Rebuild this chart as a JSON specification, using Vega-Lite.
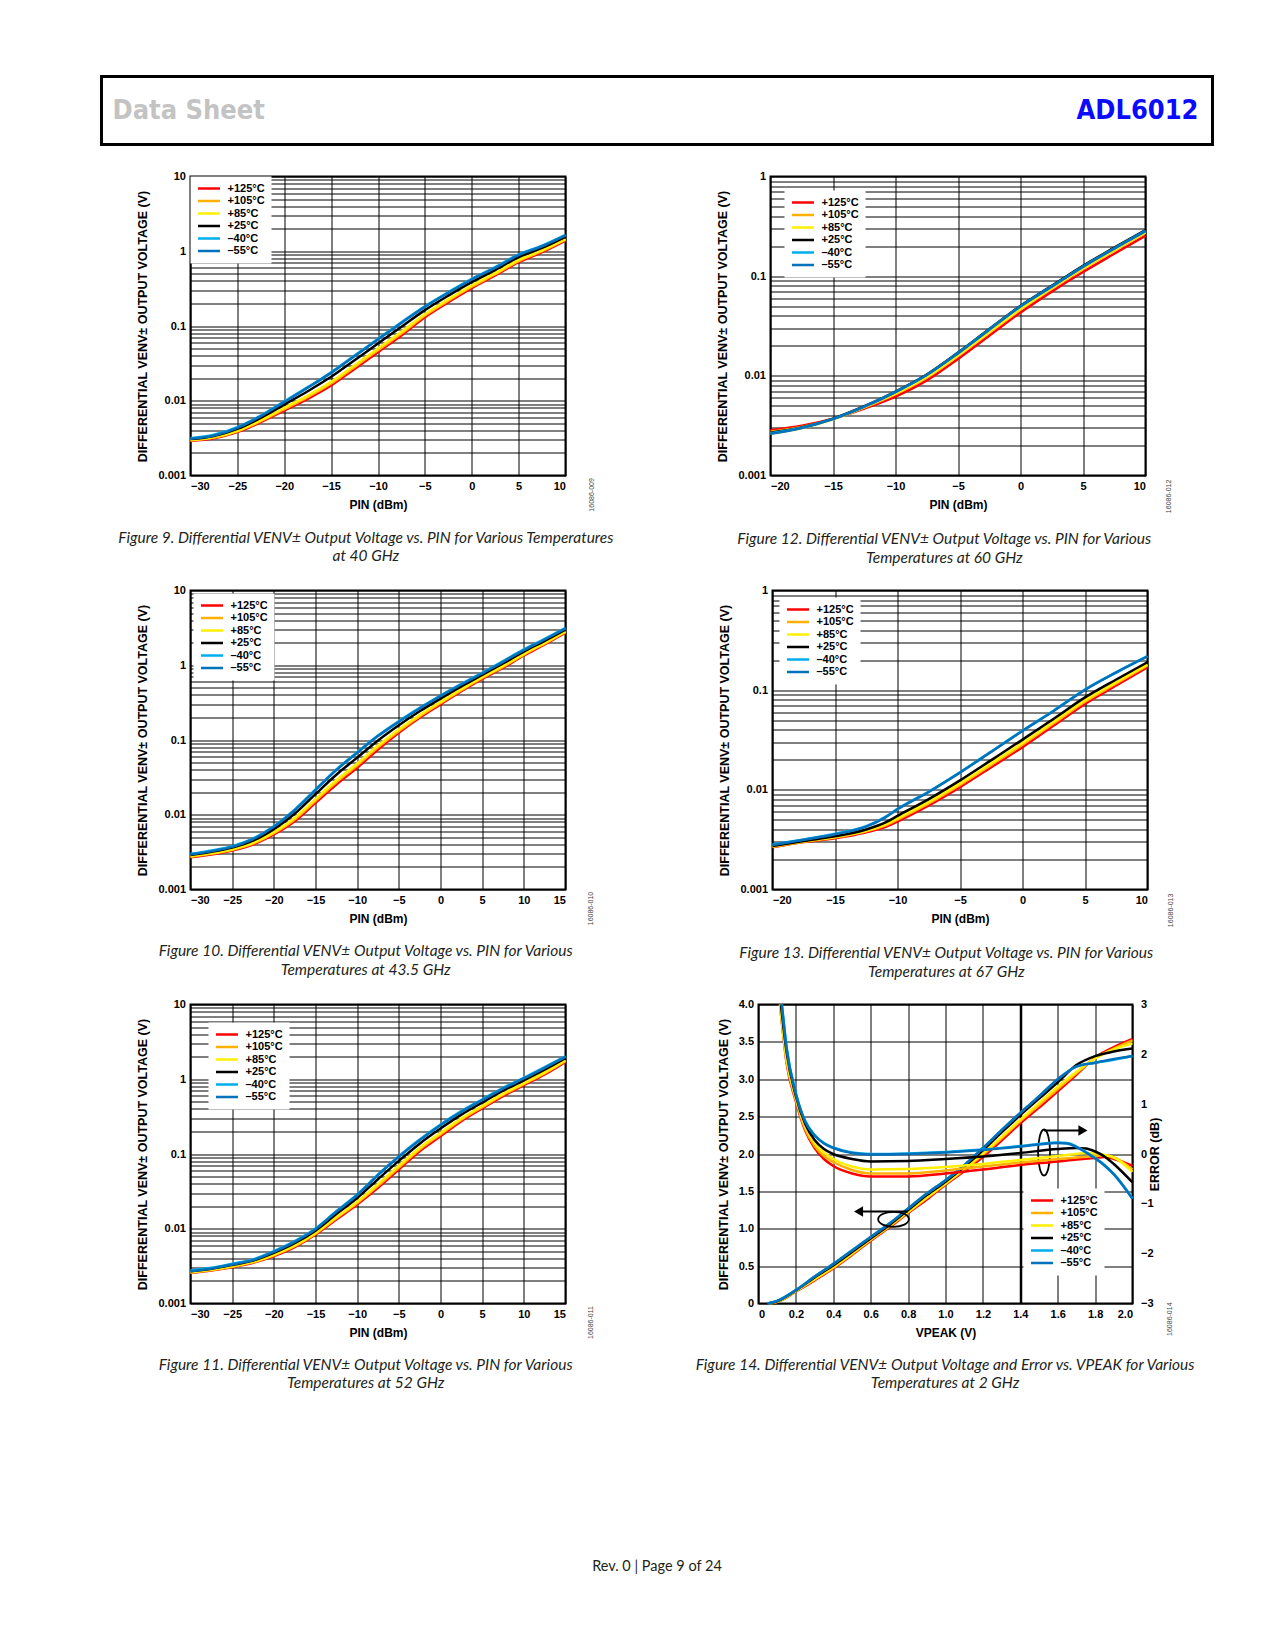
{
  "$schema": "https://vega.github.io/schema/vega-lite/v6.json",
  "description": "ADL6012 data sheet page 9: differential VENV output voltage vs. input power and VPEAK for various temperatures.",
  "background": "white",
  "padding": {"left": 99.5, "top": 74.5, "right": 20, "bottom": 40},
  "autosize": {"type": "pad"},
  "config": {
    "font": "Liberation Sans",
    "view": {"stroke": "black", "strokeWidth": 2},
    "axis": {
      "labelFont": "Liberation Sans", "labelFontSize": 11, "labelFontWeight": "bold", "labelColor": "black",
      "titleFont": "Liberation Sans", "titleFontSize": 12, "titleFontWeight": "bold", "titleColor": "black",
      "domain": false, "ticks": false, "gridColor": "black", "gridOpacity": 1, "gridWidth": 1,
      "labelPadding": 5, "titlePadding": 8, "labelOverlap": false
    },
    "axisY": {"titleFontSize": 12.5},
    "legend": {
      "fillColor": "white", "padding": 6, "symbolType": "stroke", "symbolSize": 484, "symbolStrokeWidth": 2.5,
      "labelFont": "Liberation Sans", "labelFontWeight": "bold", "labelFontSize": 11, "labelColor": "black",
      "clipHeight": 12, "rowPadding": 0.5, "labelOffset": 6
    },
    "title": {
      "font": "Lato", "fontStyle": "italic", "fontWeight": "normal", "fontSize": 15.5, "color": "#231f20",
      "orient": "bottom", "anchor": "middle", "frame": "bounds", "offset": 19, "lineHeight": 18.5
    },
    "line": {"strokeWidth": 2.5, "interpolate": "monotone"},
    "text": {"font": "Liberation Sans"}
  },
  "title": {"text": "Rev. 0 | Page 9 of 24", "orient": "bottom", "anchor": "middle", "frame": "bounds", "offset": 167, "font": "Lato", "fontStyle": "normal", "fontSize": 14.5},
  "resolve": {"scale": {"color": "independent"}, "legend": {"color": "independent"}},
  "datasets": {
    "fig9": [
      {"s": "+125°C", "x": -30, "y": 0.00291}, {"s": "+105°C", "x": -30, "y": 0.00295}, {"s": "+85°C", "x": -30, "y": 0.00298}, {"s": "+25°C", "x": -30, "y": 0.00307}, {"s": "–40°C", "x": -30, "y": 0.00316}, {"s": "–55°C", "x": -30, "y": 0.0031},
      {"s": "+125°C", "x": -27.5, "y": 0.00316}, {"s": "+105°C", "x": -27.5, "y": 0.00321}, {"s": "+85°C", "x": -27.5, "y": 0.00325}, {"s": "+25°C", "x": -27.5, "y": 0.00338}, {"s": "–40°C", "x": -27.5, "y": 0.0035}, {"s": "–55°C", "x": -27.5, "y": 0.00343},
      {"s": "+125°C", "x": -25, "y": 0.0038}, {"s": "+105°C", "x": -25, "y": 0.00389}, {"s": "+85°C", "x": -25, "y": 0.00397}, {"s": "+25°C", "x": -25, "y": 0.0042}, {"s": "–40°C", "x": -25, "y": 0.00443}, {"s": "–55°C", "x": -25, "y": 0.00434},
      {"s": "+125°C", "x": -22.5, "y": 0.00518}, {"s": "+105°C", "x": -22.5, "y": 0.00534}, {"s": "+85°C", "x": -22.5, "y": 0.00549}, {"s": "+25°C", "x": -22.5, "y": 0.00592}, {"s": "–40°C", "x": -22.5, "y": 0.00635}, {"s": "–55°C", "x": -22.5, "y": 0.00622},
      {"s": "+125°C", "x": -20, "y": 0.0074}, {"s": "+105°C", "x": -20, "y": 0.00772}, {"s": "+85°C", "x": -20, "y": 0.00801}, {"s": "+25°C", "x": -20, "y": 0.00888}, {"s": "–40°C", "x": -20, "y": 0.0098}, {"s": "–55°C", "x": -20, "y": 0.0096},
      {"s": "+125°C", "x": -17.5, "y": 0.0106}, {"s": "+105°C", "x": -17.5, "y": 0.0112}, {"s": "+85°C", "x": -17.5, "y": 0.01172}, {"s": "+25°C", "x": -17.5, "y": 0.0134}, {"s": "–40°C", "x": -17.5, "y": 0.0152}, {"s": "–55°C", "x": -17.5, "y": 0.0149},
      {"s": "+125°C", "x": -15, "y": 0.016}, {"s": "+105°C", "x": -15, "y": 0.017}, {"s": "+85°C", "x": -15, "y": 0.0179}, {"s": "+25°C", "x": -15, "y": 0.0209}, {"s": "–40°C", "x": -15, "y": 0.0241}, {"s": "–55°C", "x": -15, "y": 0.0236},
      {"s": "+125°C", "x": -12.5, "y": 0.0267}, {"s": "+105°C", "x": -12.5, "y": 0.0284}, {"s": "+85°C", "x": -12.5, "y": 0.0299}, {"s": "+25°C", "x": -12.5, "y": 0.0349}, {"s": "–40°C", "x": -12.5, "y": 0.0403}, {"s": "–55°C", "x": -12.5, "y": 0.0395},
      {"s": "+125°C", "x": -10, "y": 0.0447}, {"s": "+105°C", "x": -10, "y": 0.0475}, {"s": "+85°C", "x": -10, "y": 0.0501}, {"s": "+25°C", "x": -10, "y": 0.0583}, {"s": "–40°C", "x": -10, "y": 0.0673}, {"s": "–55°C", "x": -10, "y": 0.066},
      {"s": "+125°C", "x": -7.5, "y": 0.0746}, {"s": "+105°C", "x": -7.5, "y": 0.0793}, {"s": "+85°C", "x": -7.5, "y": 0.0836}, {"s": "+25°C", "x": -7.5, "y": 0.0974}, {"s": "–40°C", "x": -7.5, "y": 0.1125}, {"s": "–55°C", "x": -7.5, "y": 0.11},
      {"s": "+125°C", "x": -5, "y": 0.131}, {"s": "+105°C", "x": -5, "y": 0.138}, {"s": "+85°C", "x": -5, "y": 0.144}, {"s": "+25°C", "x": -5, "y": 0.163}, {"s": "–40°C", "x": -5, "y": 0.184}, {"s": "–55°C", "x": -5, "y": 0.18},
      {"s": "+125°C", "x": -2.5, "y": 0.208}, {"s": "+105°C", "x": -2.5, "y": 0.218}, {"s": "+85°C", "x": -2.5, "y": 0.227}, {"s": "+25°C", "x": -2.5, "y": 0.255}, {"s": "–40°C", "x": -2.5, "y": 0.284}, {"s": "–55°C", "x": -2.5, "y": 0.278},
      {"s": "+125°C", "x": 0, "y": 0.321}, {"s": "+105°C", "x": 0, "y": 0.335}, {"s": "+85°C", "x": 0, "y": 0.348}, {"s": "+25°C", "x": 0, "y": 0.387}, {"s": "–40°C", "x": 0, "y": 0.428}, {"s": "–55°C", "x": 0, "y": 0.419},
      {"s": "+125°C", "x": 2.5, "y": 0.474}, {"s": "+105°C", "x": 2.5, "y": 0.492}, {"s": "+85°C", "x": 2.5, "y": 0.509}, {"s": "+25°C", "x": 2.5, "y": 0.56}, {"s": "–40°C", "x": 2.5, "y": 0.612}, {"s": "–55°C", "x": 2.5, "y": 0.6},
      {"s": "+125°C", "x": 5, "y": 0.714}, {"s": "+105°C", "x": 5, "y": 0.74}, {"s": "+85°C", "x": 5, "y": 0.763}, {"s": "+25°C", "x": 5, "y": 0.834}, {"s": "–40°C", "x": 5, "y": 0.906}, {"s": "–55°C", "x": 5, "y": 0.888},
      {"s": "+125°C", "x": 7.5, "y": 0.972}, {"s": "+105°C", "x": 7.5, "y": 1.002}, {"s": "+85°C", "x": 7.5, "y": 1.028}, {"s": "+25°C", "x": 7.5, "y": 1.108}, {"s": "–40°C", "x": 7.5, "y": 1.19}, {"s": "–55°C", "x": 7.5, "y": 1.166},
      {"s": "+125°C", "x": 10, "y": 1.39}, {"s": "+105°C", "x": 10, "y": 1.428}, {"s": "+85°C", "x": 10, "y": 1.461}, {"s": "+25°C", "x": 10, "y": 1.56}, {"s": "–40°C", "x": 10, "y": 1.66}, {"s": "–55°C", "x": 10, "y": 1.627}
    ],
    "fig10": [
      {"s": "+125°C", "x": -30, "y": 0.00271}, {"s": "+105°C", "x": -30, "y": 0.00275}, {"s": "+85°C", "x": -30, "y": 0.00279}, {"s": "+25°C", "x": -30, "y": 0.00289}, {"s": "–40°C", "x": -30, "y": 0.003}, {"s": "–55°C", "x": -30, "y": 0.00294},
      {"s": "+125°C", "x": -27.5, "y": 0.00294}, {"s": "+105°C", "x": -27.5, "y": 0.003}, {"s": "+85°C", "x": -27.5, "y": 0.00305}, {"s": "+25°C", "x": -27.5, "y": 0.00319}, {"s": "–40°C", "x": -27.5, "y": 0.00333}, {"s": "–55°C", "x": -27.5, "y": 0.00326},
      {"s": "+125°C", "x": -25, "y": 0.00333}, {"s": "+105°C", "x": -25, "y": 0.0034}, {"s": "+85°C", "x": -25, "y": 0.00346}, {"s": "+25°C", "x": -25, "y": 0.00363}, {"s": "–40°C", "x": -25, "y": 0.0038}, {"s": "–55°C", "x": -25, "y": 0.00372},
      {"s": "+125°C", "x": -22.5, "y": 0.004}, {"s": "+105°C", "x": -22.5, "y": 0.00411}, {"s": "+85°C", "x": -22.5, "y": 0.00421}, {"s": "+25°C", "x": -22.5, "y": 0.0045}, {"s": "–40°C", "x": -22.5, "y": 0.00481}, {"s": "–55°C", "x": -22.5, "y": 0.00471},
      {"s": "+125°C", "x": -20, "y": 0.00545}, {"s": "+105°C", "x": -20, "y": 0.00566}, {"s": "+85°C", "x": -20, "y": 0.00585}, {"s": "+25°C", "x": -20, "y": 0.00643}, {"s": "–40°C", "x": -20, "y": 0.00703}, {"s": "–55°C", "x": -20, "y": 0.00689},
      {"s": "+125°C", "x": -17.5, "y": 0.0082}, {"s": "+105°C", "x": -17.5, "y": 0.00865}, {"s": "+85°C", "x": -17.5, "y": 0.00906}, {"s": "+25°C", "x": -17.5, "y": 0.01033}, {"s": "–40°C", "x": -17.5, "y": 0.0117}, {"s": "–55°C", "x": -17.5, "y": 0.01147},
      {"s": "+125°C", "x": -15, "y": 0.01445}, {"s": "+105°C", "x": -15, "y": 0.01537}, {"s": "+85°C", "x": -15, "y": 0.01621}, {"s": "+25°C", "x": -15, "y": 0.01889}, {"s": "–40°C", "x": -15, "y": 0.0218}, {"s": "–55°C", "x": -15, "y": 0.02136},
      {"s": "+125°C", "x": -12.5, "y": 0.0254}, {"s": "+105°C", "x": -12.5, "y": 0.0272}, {"s": "+85°C", "x": -12.5, "y": 0.0289}, {"s": "+25°C", "x": -12.5, "y": 0.0343}, {"s": "–40°C", "x": -12.5, "y": 0.0403}, {"s": "–55°C", "x": -12.5, "y": 0.0395},
      {"s": "+125°C", "x": -10, "y": 0.0425}, {"s": "+105°C", "x": -10, "y": 0.0457}, {"s": "+85°C", "x": -10, "y": 0.0486}, {"s": "+25°C", "x": -10, "y": 0.0581}, {"s": "–40°C", "x": -10, "y": 0.0687}, {"s": "–55°C", "x": -10, "y": 0.0673},
      {"s": "+125°C", "x": -7.5, "y": 0.0746}, {"s": "+105°C", "x": -7.5, "y": 0.0796}, {"s": "+85°C", "x": -7.5, "y": 0.0842}, {"s": "+25°C", "x": -7.5, "y": 0.0988}, {"s": "–40°C", "x": -7.5, "y": 0.115}, {"s": "–55°C", "x": -7.5, "y": 0.1127},
      {"s": "+125°C", "x": -5, "y": 0.125}, {"s": "+105°C", "x": -5, "y": 0.132}, {"s": "+85°C", "x": -5, "y": 0.138}, {"s": "+25°C", "x": -5, "y": 0.158}, {"s": "–40°C", "x": -5, "y": 0.179}, {"s": "–55°C", "x": -5, "y": 0.175},
      {"s": "+125°C", "x": -2.5, "y": 0.198}, {"s": "+105°C", "x": -2.5, "y": 0.207}, {"s": "+85°C", "x": -2.5, "y": 0.216}, {"s": "+25°C", "x": -2.5, "y": 0.242}, {"s": "–40°C", "x": -2.5, "y": 0.269}, {"s": "–55°C", "x": -2.5, "y": 0.264},
      {"s": "+125°C", "x": 0, "y": 0.299}, {"s": "+105°C", "x": 0, "y": 0.312}, {"s": "+85°C", "x": 0, "y": 0.323}, {"s": "+25°C", "x": 0, "y": 0.358}, {"s": "–40°C", "x": 0, "y": 0.394}, {"s": "–55°C", "x": 0, "y": 0.386},
      {"s": "+125°C", "x": 2.5, "y": 0.45}, {"s": "+105°C", "x": 2.5, "y": 0.465}, {"s": "+85°C", "x": 2.5, "y": 0.479}, {"s": "+25°C", "x": 2.5, "y": 0.521}, {"s": "–40°C", "x": 2.5, "y": 0.564}, {"s": "–55°C", "x": 2.5, "y": 0.553},
      {"s": "+125°C", "x": 5, "y": 0.658}, {"s": "+105°C", "x": 5, "y": 0.676}, {"s": "+85°C", "x": 5, "y": 0.693}, {"s": "+25°C", "x": 5, "y": 0.742}, {"s": "–40°C", "x": 5, "y": 0.792}, {"s": "–55°C", "x": 5, "y": 0.776},
      {"s": "+125°C", "x": 7.5, "y": 0.923}, {"s": "+105°C", "x": 7.5, "y": 0.952}, {"s": "+85°C", "x": 7.5, "y": 0.978}, {"s": "+25°C", "x": 7.5, "y": 1.056}, {"s": "–40°C", "x": 7.5, "y": 1.135}, {"s": "–55°C", "x": 7.5, "y": 1.112},
      {"s": "+125°C", "x": 10, "y": 1.35}, {"s": "+105°C", "x": 10, "y": 1.388}, {"s": "+85°C", "x": 10, "y": 1.422}, {"s": "+25°C", "x": 10, "y": 1.523}, {"s": "–40°C", "x": 10, "y": 1.626}, {"s": "–55°C", "x": 10, "y": 1.593},
      {"s": "+125°C", "x": 12.5, "y": 1.897}, {"s": "+105°C", "x": 12.5, "y": 1.946}, {"s": "+85°C", "x": 12.5, "y": 1.992}, {"s": "+25°C", "x": 12.5, "y": 2.123}, {"s": "–40°C", "x": 12.5, "y": 2.255}, {"s": "–55°C", "x": 12.5, "y": 2.21},
      {"s": "+125°C", "x": 15, "y": 2.72}, {"s": "+105°C", "x": 15, "y": 2.783}, {"s": "+85°C", "x": 15, "y": 2.84}, {"s": "+25°C", "x": 15, "y": 3.003}, {"s": "–40°C", "x": 15, "y": 3.17}, {"s": "–55°C", "x": 15, "y": 3.107}
    ],
    "fig11": [
      {"s": "+125°C", "x": -30, "y": 0.00257}, {"s": "+105°C", "x": -30, "y": 0.0026}, {"s": "+85°C", "x": -30, "y": 0.00262}, {"s": "+25°C", "x": -30, "y": 0.0027}, {"s": "–40°C", "x": -30, "y": 0.00277}, {"s": "–55°C", "x": -30, "y": 0.00271},
      {"s": "+125°C", "x": -27.5, "y": 0.00277}, {"s": "+105°C", "x": -27.5, "y": 0.0028}, {"s": "+85°C", "x": -27.5, "y": 0.00283}, {"s": "+25°C", "x": -27.5, "y": 0.00292}, {"s": "–40°C", "x": -27.5, "y": 0.003}, {"s": "–55°C", "x": -27.5, "y": 0.00294},
      {"s": "+125°C", "x": -25, "y": 0.00306}, {"s": "+105°C", "x": -25, "y": 0.00311}, {"s": "+85°C", "x": -25, "y": 0.00315}, {"s": "+25°C", "x": -25, "y": 0.00328}, {"s": "–40°C", "x": -25, "y": 0.0034}, {"s": "–55°C", "x": -25, "y": 0.00333},
      {"s": "+125°C", "x": -22.5, "y": 0.0035}, {"s": "+105°C", "x": -22.5, "y": 0.00356}, {"s": "+85°C", "x": -22.5, "y": 0.0036}, {"s": "+25°C", "x": -22.5, "y": 0.00375}, {"s": "–40°C", "x": -22.5, "y": 0.00388}, {"s": "–55°C", "x": -22.5, "y": 0.0038},
      {"s": "+125°C", "x": -20, "y": 0.0043}, {"s": "+105°C", "x": -20, "y": 0.0044}, {"s": "+85°C", "x": -20, "y": 0.00449}, {"s": "+25°C", "x": -20, "y": 0.00475}, {"s": "–40°C", "x": -20, "y": 0.00501}, {"s": "–55°C", "x": -20, "y": 0.00491},
      {"s": "+125°C", "x": -17.5, "y": 0.00567}, {"s": "+105°C", "x": -17.5, "y": 0.00583}, {"s": "+85°C", "x": -17.5, "y": 0.00597}, {"s": "+25°C", "x": -17.5, "y": 0.0064}, {"s": "–40°C", "x": -17.5, "y": 0.00682}, {"s": "–55°C", "x": -17.5, "y": 0.00668},
      {"s": "+125°C", "x": -15, "y": 0.00837}, {"s": "+105°C", "x": -15, "y": 0.0086}, {"s": "+85°C", "x": -15, "y": 0.00881}, {"s": "+25°C", "x": -15, "y": 0.00944}, {"s": "–40°C", "x": -15, "y": 0.01007}, {"s": "–55°C", "x": -15, "y": 0.00987},
      {"s": "+125°C", "x": -12.5, "y": 0.0133}, {"s": "+105°C", "x": -12.5, "y": 0.01382}, {"s": "+85°C", "x": -12.5, "y": 0.01428}, {"s": "+25°C", "x": -12.5, "y": 0.0157}, {"s": "–40°C", "x": -12.5, "y": 0.01718}, {"s": "–55°C", "x": -12.5, "y": 0.01684},
      {"s": "+125°C", "x": -10, "y": 0.0211}, {"s": "+105°C", "x": -10, "y": 0.0221}, {"s": "+85°C", "x": -10, "y": 0.023}, {"s": "+25°C", "x": -10, "y": 0.02577}, {"s": "–40°C", "x": -10, "y": 0.0287}, {"s": "–55°C", "x": -10, "y": 0.0281},
      {"s": "+125°C", "x": -7.5, "y": 0.0352}, {"s": "+105°C", "x": -7.5, "y": 0.03745}, {"s": "+85°C", "x": -7.5, "y": 0.0395}, {"s": "+25°C", "x": -7.5, "y": 0.046}, {"s": "–40°C", "x": -7.5, "y": 0.0532}, {"s": "–55°C", "x": -7.5, "y": 0.0521},
      {"s": "+125°C", "x": -5, "y": 0.0621}, {"s": "+105°C", "x": -5, "y": 0.066}, {"s": "+85°C", "x": -5, "y": 0.0697}, {"s": "+25°C", "x": -5, "y": 0.081}, {"s": "–40°C", "x": -5, "y": 0.0936}, {"s": "–55°C", "x": -5, "y": 0.0917},
      {"s": "+125°C", "x": -2.5, "y": 0.109}, {"s": "+105°C", "x": -2.5, "y": 0.115}, {"s": "+85°C", "x": -2.5, "y": 0.1206}, {"s": "+25°C", "x": -2.5, "y": 0.1376}, {"s": "–40°C", "x": -2.5, "y": 0.156}, {"s": "–55°C", "x": -2.5, "y": 0.1529},
      {"s": "+125°C", "x": 0, "y": 0.173}, {"s": "+105°C", "x": 0, "y": 0.1827}, {"s": "+85°C", "x": 0, "y": 0.1913}, {"s": "+25°C", "x": 0, "y": 0.2187}, {"s": "–40°C", "x": 0, "y": 0.248}, {"s": "–55°C", "x": 0, "y": 0.243},
      {"s": "+125°C", "x": 2.5, "y": 0.275}, {"s": "+105°C", "x": 2.5, "y": 0.2879}, {"s": "+85°C", "x": 2.5, "y": 0.2998}, {"s": "+25°C", "x": 2.5, "y": 0.3358}, {"s": "–40°C", "x": 2.5, "y": 0.374}, {"s": "–55°C", "x": 2.5, "y": 0.3665},
      {"s": "+125°C", "x": 5, "y": 0.406}, {"s": "+105°C", "x": 5, "y": 0.4231}, {"s": "+85°C", "x": 5, "y": 0.4389}, {"s": "+25°C", "x": 5, "y": 0.4864}, {"s": "–40°C", "x": 5, "y": 0.536}, {"s": "–55°C", "x": 5, "y": 0.5253},
      {"s": "+125°C", "x": 7.5, "y": 0.594}, {"s": "+105°C", "x": 7.5, "y": 0.6172}, {"s": "+85°C", "x": 7.5, "y": 0.638}, {"s": "+25°C", "x": 7.5, "y": 0.7015}, {"s": "–40°C", "x": 7.5, "y": 0.767}, {"s": "–55°C", "x": 7.5, "y": 0.7517},
      {"s": "+125°C", "x": 10, "y": 0.834}, {"s": "+105°C", "x": 10, "y": 0.8624}, {"s": "+85°C", "x": 10, "y": 0.8882}, {"s": "+25°C", "x": 10, "y": 0.9658}, {"s": "–40°C", "x": 10, "y": 1.045}, {"s": "–55°C", "x": 10, "y": 1.024},
      {"s": "+125°C", "x": 12.5, "y": 1.159}, {"s": "+105°C", "x": 12.5, "y": 1.198}, {"s": "+85°C", "x": 12.5, "y": 1.234}, {"s": "+25°C", "x": 12.5, "y": 1.342}, {"s": "–40°C", "x": 12.5, "y": 1.452}, {"s": "–55°C", "x": 12.5, "y": 1.423},
      {"s": "+125°C", "x": 15, "y": 1.71}, {"s": "+105°C", "x": 15, "y": 1.756}, {"s": "+85°C", "x": 15, "y": 1.796}, {"s": "+25°C", "x": 15, "y": 1.915}, {"s": "–40°C", "x": 15, "y": 2.037}, {"s": "–55°C", "x": 15, "y": 1.996}
    ],
    "fig12": [
      {"s": "+125°C", "x": -20, "y": 0.00285}, {"s": "+105°C", "x": -20, "y": 0.00275}, {"s": "+85°C", "x": -20, "y": 0.00262}, {"s": "+25°C", "x": -20, "y": 0.00268}, {"s": "–40°C", "x": -20, "y": 0.00265}, {"s": "–55°C", "x": -20, "y": 0.00262},
      {"s": "+125°C", "x": -17.5, "y": 0.00315}, {"s": "+105°C", "x": -17.5, "y": 0.00307}, {"s": "+85°C", "x": -17.5, "y": 0.00298}, {"s": "+25°C", "x": -17.5, "y": 0.00303}, {"s": "–40°C", "x": -17.5, "y": 0.00302}, {"s": "–55°C", "x": -17.5, "y": 0.003},
      {"s": "+125°C", "x": -15, "y": 0.00372}, {"s": "+105°C", "x": -15, "y": 0.00368}, {"s": "+85°C", "x": -15, "y": 0.00366}, {"s": "+25°C", "x": -15, "y": 0.00372}, {"s": "–40°C", "x": -15, "y": 0.0037}, {"s": "–55°C", "x": -15, "y": 0.00368},
      {"s": "+125°C", "x": -12.5, "y": 0.0047}, {"s": "+105°C", "x": -12.5, "y": 0.0048}, {"s": "+85°C", "x": -12.5, "y": 0.00485}, {"s": "+25°C", "x": -12.5, "y": 0.00495}, {"s": "–40°C", "x": -12.5, "y": 0.00492}, {"s": "–55°C", "x": -12.5, "y": 0.0049},
      {"s": "+125°C", "x": -10, "y": 0.0062}, {"s": "+105°C", "x": -10, "y": 0.00655}, {"s": "+85°C", "x": -10, "y": 0.00665}, {"s": "+25°C", "x": -10, "y": 0.00695}, {"s": "–40°C", "x": -10, "y": 0.0069}, {"s": "–55°C", "x": -10, "y": 0.00688},
      {"s": "+125°C", "x": -7.5, "y": 0.009}, {"s": "+105°C", "x": -7.5, "y": 0.0096}, {"s": "+85°C", "x": -7.5, "y": 0.0098}, {"s": "+25°C", "x": -7.5, "y": 0.0103}, {"s": "–40°C", "x": -7.5, "y": 0.0102}, {"s": "–55°C", "x": -7.5, "y": 0.0102},
      {"s": "+125°C", "x": -5, "y": 0.0148}, {"s": "+105°C", "x": -5, "y": 0.0158}, {"s": "+85°C", "x": -5, "y": 0.0161}, {"s": "+25°C", "x": -5, "y": 0.0171}, {"s": "–40°C", "x": -5, "y": 0.0169}, {"s": "–55°C", "x": -5, "y": 0.0168},
      {"s": "+125°C", "x": -2.5, "y": 0.0253}, {"s": "+105°C", "x": -2.5, "y": 0.0271}, {"s": "+85°C", "x": -2.5, "y": 0.0276}, {"s": "+25°C", "x": -2.5, "y": 0.0295}, {"s": "–40°C", "x": -2.5, "y": 0.0292}, {"s": "–55°C", "x": -2.5, "y": 0.029},
      {"s": "+125°C", "x": 0, "y": 0.0432}, {"s": "+105°C", "x": 0, "y": 0.0462}, {"s": "+85°C", "x": 0, "y": 0.047}, {"s": "+25°C", "x": 0, "y": 0.0505}, {"s": "–40°C", "x": 0, "y": 0.05}, {"s": "–55°C", "x": 0, "y": 0.0497},
      {"s": "+125°C", "x": 2.5, "y": 0.07}, {"s": "+105°C", "x": 2.5, "y": 0.0749}, {"s": "+85°C", "x": 2.5, "y": 0.0763}, {"s": "+25°C", "x": 2.5, "y": 0.08}, {"s": "–40°C", "x": 2.5, "y": 0.079}, {"s": "–55°C", "x": 2.5, "y": 0.0785},
      {"s": "+125°C", "x": 5, "y": 0.11}, {"s": "+105°C", "x": 5, "y": 0.118}, {"s": "+85°C", "x": 5, "y": 0.12}, {"s": "+25°C", "x": 5, "y": 0.127}, {"s": "–40°C", "x": 5, "y": 0.125}, {"s": "–55°C", "x": 5, "y": 0.124},
      {"s": "+125°C", "x": 7.5, "y": 0.168}, {"s": "+105°C", "x": 7.5, "y": 0.18}, {"s": "+85°C", "x": 7.5, "y": 0.183}, {"s": "+25°C", "x": 7.5, "y": 0.193}, {"s": "–40°C", "x": 7.5, "y": 0.19}, {"s": "–55°C", "x": 7.5, "y": 0.189},
      {"s": "+125°C", "x": 10, "y": 0.255}, {"s": "+105°C", "x": 10, "y": 0.272}, {"s": "+85°C", "x": 10, "y": 0.277}, {"s": "+25°C", "x": 10, "y": 0.29}, {"s": "–40°C", "x": 10, "y": 0.285}, {"s": "–55°C", "x": 10, "y": 0.283}
    ],
    "fig13": [
      {"s": "+125°C", "x": -20, "y": 0.00266}, {"s": "+105°C", "x": -20, "y": 0.00268}, {"s": "+85°C", "x": -20, "y": 0.0027}, {"s": "+25°C", "x": -20, "y": 0.00273}, {"s": "–40°C", "x": -20, "y": 0.00283}, {"s": "–55°C", "x": -20, "y": 0.0028},
      {"s": "+125°C", "x": -17.5, "y": 0.00299}, {"s": "+105°C", "x": -17.5, "y": 0.00302}, {"s": "+85°C", "x": -17.5, "y": 0.00304}, {"s": "+25°C", "x": -17.5, "y": 0.00307}, {"s": "–40°C", "x": -17.5, "y": 0.00318}, {"s": "–55°C", "x": -17.5, "y": 0.00315},
      {"s": "+125°C", "x": -15, "y": 0.00327}, {"s": "+105°C", "x": -15, "y": 0.00332}, {"s": "+85°C", "x": -15, "y": 0.00336}, {"s": "+25°C", "x": -15, "y": 0.00342}, {"s": "–40°C", "x": -15, "y": 0.00362}, {"s": "–55°C", "x": -15, "y": 0.00358},
      {"s": "+125°C", "x": -12.5, "y": 0.00376}, {"s": "+105°C", "x": -12.5, "y": 0.00384}, {"s": "+85°C", "x": -12.5, "y": 0.00389}, {"s": "+25°C", "x": -12.5, "y": 0.004}, {"s": "–40°C", "x": -12.5, "y": 0.00432}, {"s": "–55°C", "x": -12.5, "y": 0.00428},
      {"s": "+125°C", "x": -11, "y": 0.00422}, {"s": "+105°C", "x": -11, "y": 0.00437}, {"s": "+85°C", "x": -11, "y": 0.00447}, {"s": "+25°C", "x": -11, "y": 0.00468}, {"s": "–40°C", "x": -11, "y": 0.00532}, {"s": "–55°C", "x": -11, "y": 0.00527},
      {"s": "+125°C", "x": -10, "y": 0.00481}, {"s": "+105°C", "x": -10, "y": 0.00503}, {"s": "+85°C", "x": -10, "y": 0.00518}, {"s": "+25°C", "x": -10, "y": 0.00548}, {"s": "–40°C", "x": -10, "y": 0.00644}, {"s": "–55°C", "x": -10, "y": 0.00638},
      {"s": "+125°C", "x": -7.5, "y": 0.00697}, {"s": "+105°C", "x": -7.5, "y": 0.00731}, {"s": "+85°C", "x": -7.5, "y": 0.00756}, {"s": "+25°C", "x": -7.5, "y": 0.00806}, {"s": "–40°C", "x": -7.5, "y": 0.00962}, {"s": "–55°C", "x": -7.5, "y": 0.00952},
      {"s": "+125°C", "x": -5, "y": 0.01064}, {"s": "+105°C", "x": -5, "y": 0.0112}, {"s": "+85°C", "x": -5, "y": 0.0116}, {"s": "+25°C", "x": -5, "y": 0.01243}, {"s": "–40°C", "x": -5, "y": 0.01503}, {"s": "–55°C", "x": -5, "y": 0.01488},
      {"s": "+125°C", "x": -2.5, "y": 0.01687}, {"s": "+105°C", "x": -2.5, "y": 0.01781}, {"s": "+85°C", "x": -2.5, "y": 0.01847}, {"s": "+25°C", "x": -2.5, "y": 0.01987}, {"s": "–40°C", "x": -2.5, "y": 0.02427}, {"s": "–55°C", "x": -2.5, "y": 0.02403},
      {"s": "+125°C", "x": 0, "y": 0.0268}, {"s": "+105°C", "x": 0, "y": 0.02838}, {"s": "+85°C", "x": 0, "y": 0.0295}, {"s": "+25°C", "x": 0, "y": 0.03187}, {"s": "–40°C", "x": 0, "y": 0.03936}, {"s": "–55°C", "x": 0, "y": 0.03897},
      {"s": "+125°C", "x": 2.5, "y": 0.0442}, {"s": "+105°C", "x": 2.5, "y": 0.04654}, {"s": "+85°C", "x": 2.5, "y": 0.04822}, {"s": "+25°C", "x": 2.5, "y": 0.05167}, {"s": "–40°C", "x": 2.5, "y": 0.0625}, {"s": "–55°C", "x": 2.5, "y": 0.06188},
      {"s": "+125°C", "x": 5, "y": 0.0729}, {"s": "+105°C", "x": 5, "y": 0.07662}, {"s": "+85°C", "x": 5, "y": 0.07924}, {"s": "+25°C", "x": 5, "y": 0.08464}, {"s": "–40°C", "x": 5, "y": 0.1016}, {"s": "–55°C", "x": 5, "y": 0.1006},
      {"s": "+125°C", "x": 7.5, "y": 0.1114}, {"s": "+105°C", "x": 7.5, "y": 0.1166}, {"s": "+85°C", "x": 7.5, "y": 0.1203}, {"s": "+25°C", "x": 7.5, "y": 0.128}, {"s": "–40°C", "x": 7.5, "y": 0.1517}, {"s": "–55°C", "x": 7.5, "y": 0.1502},
      {"s": "+125°C", "x": 10, "y": 0.17}, {"s": "+105°C", "x": 10, "y": 0.1766}, {"s": "+85°C", "x": 10, "y": 0.1814}, {"s": "+25°C", "x": 10, "y": 0.191}, {"s": "–40°C", "x": 10, "y": 0.22}, {"s": "–55°C", "x": 10, "y": 0.2178}
    ],
    "fig14v": [
      {"s": "+125°C", "x": 0.05, "y": 0}, {"s": "+105°C", "x": 0.05, "y": 0}, {"s": "+85°C", "x": 0.05, "y": 0}, {"s": "+25°C", "x": 0.05, "y": 0}, {"s": "–40°C", "x": 0.05, "y": 0}, {"s": "–55°C", "x": 0.05, "y": 0},
      {"s": "+125°C", "x": 0.1, "y": 0.02}, {"s": "+105°C", "x": 0.1, "y": 0.022}, {"s": "+85°C", "x": 0.1, "y": 0.024}, {"s": "+25°C", "x": 0.1, "y": 0.03}, {"s": "–40°C", "x": 0.1, "y": 0.036}, {"s": "–55°C", "x": 0.1, "y": 0.035},
      {"s": "+125°C", "x": 0.2, "y": 0.16}, {"s": "+105°C", "x": 0.2, "y": 0.165}, {"s": "+85°C", "x": 0.2, "y": 0.17}, {"s": "+25°C", "x": 0.2, "y": 0.175}, {"s": "–40°C", "x": 0.2, "y": 0.18}, {"s": "–55°C", "x": 0.2, "y": 0.18},
      {"s": "+125°C", "x": 0.3, "y": 0.31}, {"s": "+105°C", "x": 0.3, "y": 0.32}, {"s": "+85°C", "x": 0.3, "y": 0.33}, {"s": "+25°C", "x": 0.3, "y": 0.35}, {"s": "–40°C", "x": 0.3, "y": 0.36}, {"s": "–55°C", "x": 0.3, "y": 0.36},
      {"s": "+125°C", "x": 0.4, "y": 0.47}, {"s": "+105°C", "x": 0.4, "y": 0.48}, {"s": "+85°C", "x": 0.4, "y": 0.49}, {"s": "+25°C", "x": 0.4, "y": 0.51}, {"s": "–40°C", "x": 0.4, "y": 0.53}, {"s": "–55°C", "x": 0.4, "y": 0.53},
      {"s": "+125°C", "x": 0.5, "y": 0.65}, {"s": "+105°C", "x": 0.5, "y": 0.66}, {"s": "+85°C", "x": 0.5, "y": 0.67}, {"s": "+25°C", "x": 0.5, "y": 0.69}, {"s": "–40°C", "x": 0.5, "y": 0.71}, {"s": "–55°C", "x": 0.5, "y": 0.71},
      {"s": "+125°C", "x": 0.6, "y": 0.84}, {"s": "+105°C", "x": 0.6, "y": 0.85}, {"s": "+85°C", "x": 0.6, "y": 0.86}, {"s": "+25°C", "x": 0.6, "y": 0.87}, {"s": "–40°C", "x": 0.6, "y": 0.89}, {"s": "–55°C", "x": 0.6, "y": 0.89},
      {"s": "+125°C", "x": 0.7, "y": 1.02}, {"s": "+105°C", "x": 0.7, "y": 1.03}, {"s": "+85°C", "x": 0.7, "y": 1.04}, {"s": "+25°C", "x": 0.7, "y": 1.05}, {"s": "–40°C", "x": 0.7, "y": 1.07}, {"s": "–55°C", "x": 0.7, "y": 1.07},
      {"s": "+125°C", "x": 0.8, "y": 1.21}, {"s": "+105°C", "x": 0.8, "y": 1.22}, {"s": "+85°C", "x": 0.8, "y": 1.23}, {"s": "+25°C", "x": 0.8, "y": 1.25}, {"s": "–40°C", "x": 0.8, "y": 1.27}, {"s": "–55°C", "x": 0.8, "y": 1.27},
      {"s": "+125°C", "x": 0.9, "y": 1.39}, {"s": "+105°C", "x": 0.9, "y": 1.41}, {"s": "+85°C", "x": 0.9, "y": 1.42}, {"s": "+25°C", "x": 0.9, "y": 1.45}, {"s": "–40°C", "x": 0.9, "y": 1.47}, {"s": "–55°C", "x": 0.9, "y": 1.47},
      {"s": "+125°C", "x": 1.0, "y": 1.59}, {"s": "+105°C", "x": 1.0, "y": 1.6}, {"s": "+85°C", "x": 1.0, "y": 1.61}, {"s": "+25°C", "x": 1.0, "y": 1.63}, {"s": "–40°C", "x": 1.0, "y": 1.65}, {"s": "–55°C", "x": 1.0, "y": 1.65},
      {"s": "+125°C", "x": 1.1, "y": 1.77}, {"s": "+105°C", "x": 1.1, "y": 1.79}, {"s": "+85°C", "x": 1.1, "y": 1.8}, {"s": "+25°C", "x": 1.1, "y": 1.83}, {"s": "–40°C", "x": 1.1, "y": 1.85}, {"s": "–55°C", "x": 1.1, "y": 1.85},
      {"s": "+125°C", "x": 1.2, "y": 1.96}, {"s": "+105°C", "x": 1.2, "y": 1.99}, {"s": "+85°C", "x": 1.2, "y": 2.01}, {"s": "+25°C", "x": 1.2, "y": 2.05}, {"s": "–40°C", "x": 1.2, "y": 2.08}, {"s": "–55°C", "x": 1.2, "y": 2.08},
      {"s": "+125°C", "x": 1.3, "y": 2.18}, {"s": "+105°C", "x": 1.3, "y": 2.21}, {"s": "+85°C", "x": 1.3, "y": 2.23}, {"s": "+25°C", "x": 1.3, "y": 2.29}, {"s": "–40°C", "x": 1.3, "y": 2.32}, {"s": "–55°C", "x": 1.3, "y": 2.32},
      {"s": "+125°C", "x": 1.4, "y": 2.41}, {"s": "+105°C", "x": 1.4, "y": 2.44}, {"s": "+85°C", "x": 1.4, "y": 2.46}, {"s": "+25°C", "x": 1.4, "y": 2.52}, {"s": "–40°C", "x": 1.4, "y": 2.55}, {"s": "–55°C", "x": 1.4, "y": 2.55},
      {"s": "+125°C", "x": 1.5, "y": 2.62}, {"s": "+105°C", "x": 1.5, "y": 2.65}, {"s": "+85°C", "x": 1.5, "y": 2.68}, {"s": "+25°C", "x": 1.5, "y": 2.74}, {"s": "–40°C", "x": 1.5, "y": 2.77}, {"s": "–55°C", "x": 1.5, "y": 2.77},
      {"s": "+125°C", "x": 1.6, "y": 2.84}, {"s": "+105°C", "x": 1.6, "y": 2.87}, {"s": "+85°C", "x": 1.6, "y": 2.9}, {"s": "+25°C", "x": 1.6, "y": 2.96}, {"s": "–40°C", "x": 1.6, "y": 3.0}, {"s": "–55°C", "x": 1.6, "y": 3.0},
      {"s": "+125°C", "x": 1.7, "y": 3.06}, {"s": "+105°C", "x": 1.7, "y": 3.08}, {"s": "+85°C", "x": 1.7, "y": 3.1}, {"s": "+25°C", "x": 1.7, "y": 3.19}, {"s": "–40°C", "x": 1.7, "y": 3.17}, {"s": "–55°C", "x": 1.7, "y": 3.17},
      {"s": "+125°C", "x": 1.8, "y": 3.29}, {"s": "+105°C", "x": 1.8, "y": 3.28}, {"s": "+85°C", "x": 1.8, "y": 3.28}, {"s": "+25°C", "x": 1.8, "y": 3.31}, {"s": "–40°C", "x": 1.8, "y": 3.22}, {"s": "–55°C", "x": 1.8, "y": 3.22},
      {"s": "+125°C", "x": 1.9, "y": 3.43}, {"s": "+105°C", "x": 1.9, "y": 3.41}, {"s": "+85°C", "x": 1.9, "y": 3.4}, {"s": "+25°C", "x": 1.9, "y": 3.37}, {"s": "–40°C", "x": 1.9, "y": 3.26}, {"s": "–55°C", "x": 1.9, "y": 3.27},
      {"s": "+125°C", "x": 2.0, "y": 3.54}, {"s": "+105°C", "x": 2.0, "y": 3.52}, {"s": "+85°C", "x": 2.0, "y": 3.48}, {"s": "+25°C", "x": 2.0, "y": 3.41}, {"s": "–40°C", "x": 2.0, "y": 3.31}, {"s": "–55°C", "x": 2.0, "y": 3.31}
    ],
    "fig14e": [
      {"s": "+125°C", "x": 0.115, "y": 3.0}, {"s": "+125°C", "x": 0.15, "y": 1.83}, {"s": "+125°C", "x": 0.2, "y": 1.05}, {"s": "+125°C", "x": 0.25, "y": 0.47}, {"s": "+125°C", "x": 0.3, "y": 0.12}, {"s": "+125°C", "x": 0.35, "y": -0.1}, {"s": "+125°C", "x": 0.4, "y": -0.24}, {"s": "+125°C", "x": 0.5, "y": -0.39}, {"s": "+125°C", "x": 0.6, "y": -0.45}, {"s": "+125°C", "x": 0.8, "y": -0.45}, {"s": "+125°C", "x": 1.0, "y": -0.39}, {"s": "+125°C", "x": 1.2, "y": -0.31}, {"s": "+125°C", "x": 1.4, "y": -0.22}, {"s": "+125°C", "x": 1.6, "y": -0.15}, {"s": "+125°C", "x": 1.7, "y": -0.11}, {"s": "+125°C", "x": 1.8, "y": -0.08}, {"s": "+125°C", "x": 1.85, "y": -0.06}, {"s": "+125°C", "x": 1.9, "y": -0.1}, {"s": "+125°C", "x": 2.0, "y": -0.24},
      {"s": "+105°C", "x": 0.115, "y": 3.0}, {"s": "+105°C", "x": 0.15, "y": 1.87}, {"s": "+105°C", "x": 0.2, "y": 1.08}, {"s": "+105°C", "x": 0.25, "y": 0.5}, {"s": "+105°C", "x": 0.3, "y": 0.16}, {"s": "+105°C", "x": 0.35, "y": -0.04}, {"s": "+105°C", "x": 0.4, "y": -0.16}, {"s": "+105°C", "x": 0.5, "y": -0.32}, {"s": "+105°C", "x": 0.6, "y": -0.39}, {"s": "+105°C", "x": 0.8, "y": -0.39}, {"s": "+105°C", "x": 1.0, "y": -0.33}, {"s": "+105°C", "x": 1.2, "y": -0.25}, {"s": "+105°C", "x": 1.4, "y": -0.17}, {"s": "+105°C", "x": 1.6, "y": -0.1}, {"s": "+105°C", "x": 1.7, "y": -0.07}, {"s": "+105°C", "x": 1.8, "y": -0.04}, {"s": "+105°C", "x": 1.85, "y": -0.03}, {"s": "+105°C", "x": 1.9, "y": -0.07}, {"s": "+105°C", "x": 2.0, "y": -0.31},
      {"s": "+85°C", "x": 0.115, "y": 3.0}, {"s": "+85°C", "x": 0.15, "y": 1.9}, {"s": "+85°C", "x": 0.2, "y": 1.12}, {"s": "+85°C", "x": 0.25, "y": 0.55}, {"s": "+85°C", "x": 0.3, "y": 0.22}, {"s": "+85°C", "x": 0.35, "y": 0.03}, {"s": "+85°C", "x": 0.4, "y": -0.1}, {"s": "+85°C", "x": 0.5, "y": -0.25}, {"s": "+85°C", "x": 0.6, "y": -0.31}, {"s": "+85°C", "x": 0.8, "y": -0.3}, {"s": "+85°C", "x": 1.0, "y": -0.26}, {"s": "+85°C", "x": 1.2, "y": -0.2}, {"s": "+85°C", "x": 1.4, "y": -0.12}, {"s": "+85°C", "x": 1.6, "y": -0.04}, {"s": "+85°C", "x": 1.7, "y": 0.0}, {"s": "+85°C", "x": 1.75, "y": 0.02}, {"s": "+85°C", "x": 1.8, "y": 0.01}, {"s": "+85°C", "x": 1.85, "y": -0.02}, {"s": "+85°C", "x": 1.9, "y": -0.07}, {"s": "+85°C", "x": 2.0, "y": -0.36},
      {"s": "+25°C", "x": 0.12, "y": 3.0}, {"s": "+25°C", "x": 0.15, "y": 2.05}, {"s": "+25°C", "x": 0.2, "y": 1.16}, {"s": "+25°C", "x": 0.25, "y": 0.6}, {"s": "+25°C", "x": 0.3, "y": 0.28}, {"s": "+25°C", "x": 0.35, "y": 0.1}, {"s": "+25°C", "x": 0.4, "y": 0.0}, {"s": "+25°C", "x": 0.5, "y": -0.1}, {"s": "+25°C", "x": 0.6, "y": -0.15}, {"s": "+25°C", "x": 0.8, "y": -0.14}, {"s": "+25°C", "x": 1.0, "y": -0.1}, {"s": "+25°C", "x": 1.2, "y": -0.05}, {"s": "+25°C", "x": 1.4, "y": 0.02}, {"s": "+25°C", "x": 1.6, "y": 0.1}, {"s": "+25°C", "x": 1.7, "y": 0.12}, {"s": "+25°C", "x": 1.75, "y": 0.11}, {"s": "+25°C", "x": 1.8, "y": 0.05}, {"s": "+25°C", "x": 1.85, "y": -0.05}, {"s": "+25°C", "x": 1.9, "y": -0.2}, {"s": "+25°C", "x": 2.0, "y": -0.57},
      {"s": "–40°C", "x": 0.125, "y": 3.0}, {"s": "–40°C", "x": 0.15, "y": 2.15}, {"s": "–40°C", "x": 0.2, "y": 1.22}, {"s": "–40°C", "x": 0.25, "y": 0.66}, {"s": "–40°C", "x": 0.3, "y": 0.38}, {"s": "–40°C", "x": 0.35, "y": 0.22}, {"s": "–40°C", "x": 0.4, "y": 0.13}, {"s": "–40°C", "x": 0.5, "y": 0.03}, {"s": "–40°C", "x": 0.6, "y": 0.0}, {"s": "–40°C", "x": 0.8, "y": 0.01}, {"s": "–40°C", "x": 1.0, "y": 0.04}, {"s": "–40°C", "x": 1.2, "y": 0.09}, {"s": "–40°C", "x": 1.4, "y": 0.16}, {"s": "–40°C", "x": 1.5, "y": 0.2}, {"s": "–40°C", "x": 1.6, "y": 0.23}, {"s": "–40°C", "x": 1.65, "y": 0.22}, {"s": "–40°C", "x": 1.7, "y": 0.15}, {"s": "–40°C", "x": 1.8, "y": -0.08}, {"s": "–40°C", "x": 1.85, "y": -0.22}, {"s": "–40°C", "x": 1.9, "y": -0.4}, {"s": "–40°C", "x": 2.0, "y": -0.89},
      {"s": "–55°C", "x": 0.125, "y": 3.0}, {"s": "–55°C", "x": 0.15, "y": 2.13}, {"s": "–55°C", "x": 0.2, "y": 1.21}, {"s": "–55°C", "x": 0.25, "y": 0.65}, {"s": "–55°C", "x": 0.3, "y": 0.37}, {"s": "–55°C", "x": 0.35, "y": 0.21}, {"s": "–55°C", "x": 0.4, "y": 0.12}, {"s": "–55°C", "x": 0.5, "y": 0.02}, {"s": "–55°C", "x": 0.6, "y": -0.01}, {"s": "–55°C", "x": 0.8, "y": 0.0}, {"s": "–55°C", "x": 1.0, "y": 0.03}, {"s": "–55°C", "x": 1.2, "y": 0.08}, {"s": "–55°C", "x": 1.4, "y": 0.15}, {"s": "–55°C", "x": 1.5, "y": 0.19}, {"s": "–55°C", "x": 1.6, "y": 0.22}, {"s": "–55°C", "x": 1.65, "y": 0.21}, {"s": "–55°C", "x": 1.7, "y": 0.14}, {"s": "–55°C", "x": 1.8, "y": -0.09}, {"s": "–55°C", "x": 1.85, "y": -0.23}, {"s": "–55°C", "x": 1.9, "y": -0.41}, {"s": "–55°C", "x": 2.0, "y": -0.9}
    ]
  },
  "spacing": 16,
  "vconcat": [
    {
      "width": 1022,
      "height": 77,
      "view": {"stroke": null},
      "layer": [
        {
          "data": {"values": [{"x": -0.0871, "x2": 1, "y": 0.117, "y2": 1}]},
          "mark": {"type": "rect", "fillOpacity": 0, "stroke": "black", "strokeWidth": 3},
          "encoding": {
            "x": {"field": "x", "type": "quantitative", "scale": {"domain": [0, 1], "nice": false}, "axis": null},
            "x2": {"field": "x2"},
            "y": {"field": "y", "type": "quantitative", "scale": {"domain": [0, 1], "nice": false}, "axis": null},
            "y2": {"field": "y2"}
          }
        },
        {
          "data": {"values": [{"t": "Data Sheet", "x": -0.0763, "y": 0.558}]},
          "mark": {"type": "text", "align": "left", "baseline": "middle", "font": "DejaVu Sans Condensed, Liberation Sans Narrow, Liberation Sans, sans-serif", "fontWeight": "bold", "fontSize": 27, "color": "#c3c3c3"},
          "encoding": {
            "x": {"field": "x", "type": "quantitative", "scale": {"domain": [0, 1], "nice": false}, "axis": null},
            "y": {"field": "y", "type": "quantitative", "scale": {"domain": [0, 1], "nice": false}, "axis": null},
            "text": {"field": "t"}
          }
        },
        {
          "data": {"values": [{"t": "ADL6012", "x": 0.9863, "y": 0.558}]},
          "mark": {"type": "text", "align": "right", "baseline": "middle", "font": "DejaVu Sans Condensed, Liberation Sans Narrow, Liberation Sans, sans-serif", "fontWeight": "bold", "fontSize": 27, "color": "#0a0aff"},
          "encoding": {
            "x": {"field": "x", "type": "quantitative", "scale": {"domain": [0, 1], "nice": false}, "axis": null},
            "y": {"field": "y", "type": "quantitative", "scale": {"domain": [0, 1], "nice": false}, "axis": null},
            "text": {"field": "t"}
          }
        }
      ]
    },
    {
      "spacing": 99,
      "resolve": {"scale": {"color": "independent"}, "legend": {"color": "independent"}},
      "hconcat": [
        {
          "width": 375, "height": 299,
          "title": {"text": ["Figure 9. Differential VENV± Output Voltage vs. PIN for Various Temperatures", "at 40 GHz"]},
          "layer": [
            {
              "data": {"name": "fig9"},
              "mark": "line",
              "encoding": {
                "x": {"field": "x", "type": "quantitative", "scale": {"domain": [-30, 10], "nice": false}, "axis": {"title": "PIN (dBm)", "values": [-30, -25, -20, -15, -10, -5, 0, 5, 10]}},
                "y": {"field": "y", "type": "quantitative", "scale": {"type": "log", "domain": [0.001, 10], "nice": false}, "axis": {"title": "DIFFERENTIAL VENV± OUTPUT VOLTAGE (V)", "format": "~g", "values": [0.001, 0.002, 0.003, 0.004, 0.005, 0.006, 0.007, 0.008, 0.009, 0.01, 0.02, 0.03, 0.04, 0.05, 0.06, 0.07, 0.08, 0.09, 0.1, 0.2, 0.3, 0.4, 0.5, 0.6, 0.7, 0.8, 0.9, 1, 2, 3, 4, 5, 6, 7, 8, 9, 10], "labelExpr": "datum.value == 0.001 || datum.value == 0.01 || datum.value == 0.1 || datum.value == 1 || datum.value == 10 ? datum.label : ''"}},
                "color": {"field": "s", "type": "nominal", "scale": {"domain": ["+125°C", "+105°C", "+85°C", "+25°C", "–40°C", "–55°C"], "range": ["#ff0000", "#ffb000", "#ffef00", "#000000", "#00aeef", "#0072bc"]}, "legend": {"title": null, "orient": "top-left", "offset": 0}}
              }
            },
            {
              "data": {"values": [{"code": "16086-009", "x": 12.8, "y": 0.00055}]},
              "mark": {"type": "text", "angle": 270, "fontSize": 7, "color": "#444444", "baseline": "middle", "align": "center"},
              "encoding": {
                "x": {"field": "x", "type": "quantitative", "scale": {"domain": [-30, 10], "nice": false}, "title": "PIN (dBm)"},
                "y": {"field": "y", "type": "quantitative", "scale": {"type": "log", "domain": [0.001, 10], "nice": false}, "title": "DIFFERENTIAL VENV± OUTPUT VOLTAGE (V)"},
                "text": {"field": "code"}
              }
            }
          ]
        },
        {
          "width": 375, "height": 299,
          "title": {"text": ["Figure 12. Differential VENV± Output Voltage vs. PIN for Various", "Temperatures at 60 GHz"]},
          "layer": [
            {
              "data": {"name": "fig12"},
              "mark": "line",
              "encoding": {
                "x": {"field": "x", "type": "quantitative", "scale": {"domain": [-20, 10], "nice": false}, "axis": {"title": "PIN (dBm)", "values": [-20, -15, -10, -5, 0, 5, 10]}},
                "y": {"field": "y", "type": "quantitative", "scale": {"type": "log", "domain": [0.001, 1], "nice": false}, "axis": {"title": "DIFFERENTIAL VENV± OUTPUT VOLTAGE (V)", "format": "~g", "values": [0.001, 0.002, 0.003, 0.004, 0.005, 0.006, 0.007, 0.008, 0.009, 0.01, 0.02, 0.03, 0.04, 0.05, 0.06, 0.07, 0.08, 0.09, 0.1, 0.2, 0.3, 0.4, 0.5, 0.6, 0.7, 0.8, 0.9, 1], "labelExpr": "datum.value == 0.001 || datum.value == 0.01 || datum.value == 0.1 || datum.value == 1 ? datum.label : ''"}},
                "color": {"field": "s", "type": "nominal", "scale": {"domain": ["+125°C", "+105°C", "+85°C", "+25°C", "–40°C", "–55°C"], "range": ["#ff0000", "#ffb000", "#ffef00", "#000000", "#00aeef", "#0072bc"]}, "legend": {"title": null, "orient": "top-left", "offset": 14}}
              }
            },
            {
              "data": {"values": [{"code": "16086-012", "x": 11.85, "y": 0.000617}]},
              "mark": {"type": "text", "angle": 270, "fontSize": 7, "color": "#444444", "baseline": "middle", "align": "center"},
              "encoding": {
                "x": {"field": "x", "type": "quantitative", "scale": {"domain": [-20, 10], "nice": false}, "title": "PIN (dBm)"},
                "y": {"field": "y", "type": "quantitative", "scale": {"type": "log", "domain": [0.001, 1], "nice": false}, "title": "DIFFERENTIAL VENV± OUTPUT VOLTAGE (V)"},
                "text": {"field": "code"}
              }
            }
          ]
        }
      ]
    },
    {
      "spacing": 122,
      "resolve": {"scale": {"color": "independent"}, "legend": {"color": "independent"}},
      "hconcat": [
        {
          "width": 375, "height": 299,
          "title": {"text": ["Figure 10. Differential VENV± Output Voltage vs. PIN for Various", "Temperatures at 43.5 GHz"]},
          "layer": [
            {
              "data": {"name": "fig10"},
              "mark": "line",
              "encoding": {
                "x": {"field": "x", "type": "quantitative", "scale": {"domain": [-30, 15], "nice": false}, "axis": {"title": "PIN (dBm)", "values": [-30, -25, -20, -15, -10, -5, 0, 5, 10, 15]}},
                "y": {"field": "y", "type": "quantitative", "scale": {"type": "log", "domain": [0.001, 10], "nice": false}, "axis": {"title": "DIFFERENTIAL VENV± OUTPUT VOLTAGE (V)", "format": "~g", "values": [0.001, 0.002, 0.003, 0.004, 0.005, 0.006, 0.007, 0.008, 0.009, 0.01, 0.02, 0.03, 0.04, 0.05, 0.06, 0.07, 0.08, 0.09, 0.1, 0.2, 0.3, 0.4, 0.5, 0.6, 0.7, 0.8, 0.9, 1, 2, 3, 4, 5, 6, 7, 8, 9, 10], "labelExpr": "datum.value == 0.001 || datum.value == 0.01 || datum.value == 0.1 || datum.value == 1 || datum.value == 10 ? datum.label : ''"}},
                "color": {"field": "s", "type": "nominal", "scale": {"domain": ["+125°C", "+105°C", "+85°C", "+25°C", "–40°C", "–55°C"], "range": ["#ff0000", "#ffb000", "#ffef00", "#000000", "#00aeef", "#0072bc"]}, "legend": {"title": null, "orient": "top-left", "offset": 3}}
              }
            },
            {
              "data": {"values": [{"code": "16086-010", "x": 18.1, "y": 0.000557}]},
              "mark": {"type": "text", "angle": 270, "fontSize": 7, "color": "#444444", "baseline": "middle", "align": "center"},
              "encoding": {
                "x": {"field": "x", "type": "quantitative", "scale": {"domain": [-30, 15], "nice": false}, "title": "PIN (dBm)"},
                "y": {"field": "y", "type": "quantitative", "scale": {"type": "log", "domain": [0.001, 10], "nice": false}, "title": "DIFFERENTIAL VENV± OUTPUT VOLTAGE (V)"},
                "text": {"field": "code"}
              }
            }
          ]
        },
        {
          "width": 375, "height": 299,
          "title": {"text": ["Figure 13. Differential VENV± Output Voltage vs. PIN for Various", "Temperatures at 67 GHz"]},
          "layer": [
            {
              "data": {"name": "fig13"},
              "mark": "line",
              "encoding": {
                "x": {"field": "x", "type": "quantitative", "scale": {"domain": [-20, 10], "nice": false}, "axis": {"title": "PIN (dBm)", "values": [-20, -15, -10, -5, 0, 5, 10]}},
                "y": {"field": "y", "type": "quantitative", "scale": {"type": "log", "domain": [0.001, 1], "nice": false}, "axis": {"title": "DIFFERENTIAL VENV± OUTPUT VOLTAGE (V)", "format": "~g", "values": [0.001, 0.002, 0.003, 0.004, 0.005, 0.006, 0.007, 0.008, 0.009, 0.01, 0.02, 0.03, 0.04, 0.05, 0.06, 0.07, 0.08, 0.09, 0.1, 0.2, 0.3, 0.4, 0.5, 0.6, 0.7, 0.8, 0.9, 1], "labelExpr": "datum.value == 0.001 || datum.value == 0.01 || datum.value == 0.1 || datum.value == 1 ? datum.label : ''"}},
                "color": {"field": "s", "type": "nominal", "scale": {"domain": ["+125°C", "+105°C", "+85°C", "+25°C", "–40°C", "–55°C"], "range": ["#ff0000", "#ffb000", "#ffef00", "#000000", "#00aeef", "#0072bc"]}, "legend": {"title": null, "orient": "top-left", "offset": 7}}
              }
            },
            {
              "data": {"values": [{"code": "16086-013", "x": 11.85, "y": 0.000617}]},
              "mark": {"type": "text", "angle": 270, "fontSize": 7, "color": "#444444", "baseline": "middle", "align": "center"},
              "encoding": {
                "x": {"field": "x", "type": "quantitative", "scale": {"domain": [-20, 10], "nice": false}, "title": "PIN (dBm)"},
                "y": {"field": "y", "type": "quantitative", "scale": {"type": "log", "domain": [0.001, 1], "nice": false}, "title": "DIFFERENTIAL VENV± OUTPUT VOLTAGE (V)"},
                "text": {"field": "code"}
              }
            }
          ]
        }
      ]
    },
    {
      "spacing": 97,
      "resolve": {"scale": {"color": "independent"}, "legend": {"color": "independent"}},
      "hconcat": [
        {
          "width": 375, "height": 299,
          "title": {"text": ["Figure 11. Differential VENV± Output Voltage vs. PIN for Various", "Temperatures at 52 GHz"]},
          "layer": [
            {
              "data": {"name": "fig11"},
              "mark": "line",
              "encoding": {
                "x": {"field": "x", "type": "quantitative", "scale": {"domain": [-30, 15], "nice": false}, "axis": {"title": "PIN (dBm)", "values": [-30, -25, -20, -15, -10, -5, 0, 5, 10, 15]}},
                "y": {"field": "y", "type": "quantitative", "scale": {"type": "log", "domain": [0.001, 10], "nice": false}, "axis": {"title": "DIFFERENTIAL VENV± OUTPUT VOLTAGE (V)", "format": "~g", "values": [0.001, 0.002, 0.003, 0.004, 0.005, 0.006, 0.007, 0.008, 0.009, 0.01, 0.02, 0.03, 0.04, 0.05, 0.06, 0.07, 0.08, 0.09, 0.1, 0.2, 0.3, 0.4, 0.5, 0.6, 0.7, 0.8, 0.9, 1, 2, 3, 4, 5, 6, 7, 8, 9, 10], "labelExpr": "datum.value == 0.001 || datum.value == 0.01 || datum.value == 0.1 || datum.value == 1 || datum.value == 10 ? datum.label : ''"}},
                "color": {"field": "s", "type": "nominal", "scale": {"domain": ["+125°C", "+105°C", "+85°C", "+25°C", "–40°C", "–55°C"], "range": ["#ff0000", "#ffb000", "#ffef00", "#000000", "#00aeef", "#0072bc"]}, "legend": {"title": null, "orient": "top-left", "offset": 18}}
              }
            },
            {
              "data": {"values": [{"code": "16086-011", "x": 18.1, "y": 0.000557}]},
              "mark": {"type": "text", "angle": 270, "fontSize": 7, "color": "#444444", "baseline": "middle", "align": "center"},
              "encoding": {
                "x": {"field": "x", "type": "quantitative", "scale": {"domain": [-30, 15], "nice": false}, "title": "PIN (dBm)"},
                "y": {"field": "y", "type": "quantitative", "scale": {"type": "log", "domain": [0.001, 10], "nice": false}, "title": "DIFFERENTIAL VENV± OUTPUT VOLTAGE (V)"},
                "text": {"field": "code"}
              }
            }
          ]
        },
        {
          "width": 374, "height": 299,
          "title": {"text": ["Figure 14. Differential VENV± Output Voltage and Error vs. VPEAK for Various", "Temperatures at 2 GHz"]},
          "resolve": {"scale": {"y": "independent"}},
          "layer": [
            {
              "layer": [
                {
                  "data": {"name": "fig14v"},
                  "mark": "line",
                  "encoding": {
                    "x": {"field": "x", "type": "quantitative", "scale": {"domain": [0, 2], "nice": false}, "axis": {"title": "VPEAK (V)", "values": [0, 0.2, 0.4, 0.6, 0.8, 1, 1.2, 1.4, 1.6, 1.8, 2], "labelExpr": "datum.value == 0 ? '0' : format(datum.value, '.1f')", "gridWidth": {"condition": {"test": "abs(datum.value - 1.4) < 0.01", "value": 2.5}, "value": 1}}},
                    "y": {"field": "y", "type": "quantitative", "scale": {"domain": [0, 4], "nice": false}, "axis": {"title": "DIFFERENTIAL VENV± OUTPUT VOLTAGE (V)", "values": [0, 0.5, 1, 1.5, 2, 2.5, 3, 3.5, 4], "labelExpr": "datum.value == 0 ? '0' : format(datum.value, '.1f')"}},
                    "color": {"field": "s", "type": "nominal", "scale": {"domain": ["+125°C", "+105°C", "+85°C", "+25°C", "–40°C", "–55°C"], "range": ["#ff0000", "#ffb000", "#ffef00", "#000000", "#00aeef", "#0072bc"]}, "legend": {"title": null, "orient": "bottom-right", "offset": 28}}
                  }
                },
                {
                  "data": {"values": [{"x": 0.55, "x2": 0.8, "y": 1.23}, {"x": 1.527, "x2": 1.72, "y": 2.315}]},
                  "mark": {"type": "rule", "color": "black", "strokeWidth": 2},
                  "encoding": {
                    "x": {"field": "x", "type": "quantitative", "scale": {"domain": [0, 2], "nice": false}, "axis": {"title": "VPEAK (V)", "values": [0, 0.2, 0.4, 0.6, 0.8, 1, 1.2, 1.4, 1.6, 1.8, 2], "labelExpr": "datum.value == 0 ? '0' : format(datum.value, '.1f')", "gridWidth": {"condition": {"test": "abs(datum.value - 1.4) < 0.01", "value": 2.5}, "value": 1}}},
                    "x2": {"field": "x2"},
                    "y": {"field": "y", "type": "quantitative", "scale": {"domain": [0, 4], "nice": false}, "axis": {"title": "DIFFERENTIAL VENV± OUTPUT VOLTAGE (V)", "values": [0, 0.5, 1, 1.5, 2, 2.5, 3, 3.5, 4], "labelExpr": "datum.value == 0 ? '0' : format(datum.value, '.1f')"}}
                  }
                },
                {
                  "data": {"values": [{"x": 0.535, "y": 1.23}]},
                  "mark": {"type": "point", "shape": "triangle-left", "filled": true, "color": "black", "size": 110, "opacity": 1},
                  "encoding": {
                    "x": {"field": "x", "type": "quantitative", "scale": {"domain": [0, 2], "nice": false}, "axis": {"title": "VPEAK (V)", "values": [0, 0.2, 0.4, 0.6, 0.8, 1, 1.2, 1.4, 1.6, 1.8, 2], "labelExpr": "datum.value == 0 ? '0' : format(datum.value, '.1f')", "gridWidth": {"condition": {"test": "abs(datum.value - 1.4) < 0.01", "value": 2.5}, "value": 1}}},
                    "y": {"field": "y", "type": "quantitative", "scale": {"domain": [0, 4], "nice": false}, "axis": {"title": "DIFFERENTIAL VENV± OUTPUT VOLTAGE (V)", "values": [0, 0.5, 1, 1.5, 2, 2.5, 3, 3.5, 4], "labelExpr": "datum.value == 0 ? '0' : format(datum.value, '.1f')"}}
                  }
                },
                {
                  "data": {"values": [{"x": 1.735, "y": 2.315}]},
                  "mark": {"type": "point", "shape": "triangle-right", "filled": true, "color": "black", "size": 110, "opacity": 1},
                  "encoding": {
                    "x": {"field": "x", "type": "quantitative", "scale": {"domain": [0, 2], "nice": false}, "axis": {"title": "VPEAK (V)", "values": [0, 0.2, 0.4, 0.6, 0.8, 1, 1.2, 1.4, 1.6, 1.8, 2], "labelExpr": "datum.value == 0 ? '0' : format(datum.value, '.1f')", "gridWidth": {"condition": {"test": "abs(datum.value - 1.4) < 0.01", "value": 2.5}, "value": 1}}},
                    "y": {"field": "y", "type": "quantitative", "scale": {"domain": [0, 4], "nice": false}, "axis": {"title": "DIFFERENTIAL VENV± OUTPUT VOLTAGE (V)", "values": [0, 0.5, 1, 1.5, 2, 2.5, 3, 3.5, 4], "labelExpr": "datum.value == 0 ? '0' : format(datum.value, '.1f')"}}
                  }
                },
                {
                  "data": {"values": [{"x": 0.722, "y": 1.126}]},
                  "mark": {"type": "point", "filled": false, "color": "black", "strokeWidth": 1.8, "opacity": 1, "size": 942, "shape": "M -1 0 A 1 0.49 0 1 0 1 0 A 1 0.49 0 1 0 -1 0"},
                  "encoding": {
                    "x": {"field": "x", "type": "quantitative", "scale": {"domain": [0, 2], "nice": false}, "axis": {"title": "VPEAK (V)", "values": [0, 0.2, 0.4, 0.6, 0.8, 1, 1.2, 1.4, 1.6, 1.8, 2], "labelExpr": "datum.value == 0 ? '0' : format(datum.value, '.1f')", "gridWidth": {"condition": {"test": "abs(datum.value - 1.4) < 0.01", "value": 2.5}, "value": 1}}},
                    "y": {"field": "y", "type": "quantitative", "scale": {"domain": [0, 4], "nice": false}, "axis": {"title": "DIFFERENTIAL VENV± OUTPUT VOLTAGE (V)", "values": [0, 0.5, 1, 1.5, 2, 2.5, 3, 3.5, 4], "labelExpr": "datum.value == 0 ? '0' : format(datum.value, '.1f')"}}
                  }
                },
                {
                  "data": {"values": [{"x": 1.527, "y": 2.02}]},
                  "mark": {"type": "point", "filled": false, "color": "black", "strokeWidth": 1.8, "opacity": 1, "size": 2116, "shape": "M 0 -1 A 0.26 1 0 1 0 0 1 A 0.26 1 0 1 0 0 -1"},
                  "encoding": {
                    "x": {"field": "x", "type": "quantitative", "scale": {"domain": [0, 2], "nice": false}, "axis": {"title": "VPEAK (V)", "values": [0, 0.2, 0.4, 0.6, 0.8, 1, 1.2, 1.4, 1.6, 1.8, 2], "labelExpr": "datum.value == 0 ? '0' : format(datum.value, '.1f')", "gridWidth": {"condition": {"test": "abs(datum.value - 1.4) < 0.01", "value": 2.5}, "value": 1}}},
                    "y": {"field": "y", "type": "quantitative", "scale": {"domain": [0, 4], "nice": false}, "axis": {"title": "DIFFERENTIAL VENV± OUTPUT VOLTAGE (V)", "values": [0, 0.5, 1, 1.5, 2, 2.5, 3, 3.5, 4], "labelExpr": "datum.value == 0 ? '0' : format(datum.value, '.1f')"}}
                  }
                },
                {
                  "data": {"values": [{"code": "16086-014", "x": 2.2, "y": -0.21}]},
                  "mark": {"type": "text", "angle": 270, "fontSize": 7, "color": "#444444", "baseline": "middle", "align": "center"},
                  "encoding": {
                    "x": {"field": "x", "type": "quantitative", "scale": {"domain": [0, 2], "nice": false}, "axis": {"title": "VPEAK (V)", "values": [0, 0.2, 0.4, 0.6, 0.8, 1, 1.2, 1.4, 1.6, 1.8, 2], "labelExpr": "datum.value == 0 ? '0' : format(datum.value, '.1f')", "gridWidth": {"condition": {"test": "abs(datum.value - 1.4) < 0.01", "value": 2.5}, "value": 1}}},
                    "y": {"field": "y", "type": "quantitative", "scale": {"domain": [0, 4], "nice": false}, "axis": {"title": "DIFFERENTIAL VENV± OUTPUT VOLTAGE (V)", "values": [0, 0.5, 1, 1.5, 2, 2.5, 3, 3.5, 4], "labelExpr": "datum.value == 0 ? '0' : format(datum.value, '.1f')"}},
                    "text": {"field": "code"}
                  }
                }
              ]
            },
            {
              "data": {"name": "fig14e"},
              "mark": "line",
              "encoding": {
                "x": {"field": "x", "type": "quantitative", "scale": {"domain": [0, 2], "nice": false}, "axis": {"title": "VPEAK (V)", "values": [0, 0.2, 0.4, 0.6, 0.8, 1, 1.2, 1.4, 1.6, 1.8, 2], "labelExpr": "datum.value == 0 ? '0' : format(datum.value, '.1f')", "gridWidth": {"condition": {"test": "abs(datum.value - 1.4) < 0.01", "value": 2.5}, "value": 1}}},
                "y": {"field": "y", "type": "quantitative", "scale": {"domain": [-3, 3], "nice": false}, "axis": {"orient": "right", "title": "ERROR (dB)", "titleAngle": 270, "grid": false, "values": [-3, -2, -1, 0, 1, 2, 3], "labelPadding": 8}},
                "color": {"field": "s", "type": "nominal", "scale": {"domain": ["+125°C", "+105°C", "+85°C", "+25°C", "–40°C", "–55°C"], "range": ["#ff0000", "#ffb000", "#ffef00", "#000000", "#00aeef", "#0072bc"]}, "legend": null}
              }
            }
          ]
        }
      ]
    }
  ]
}
